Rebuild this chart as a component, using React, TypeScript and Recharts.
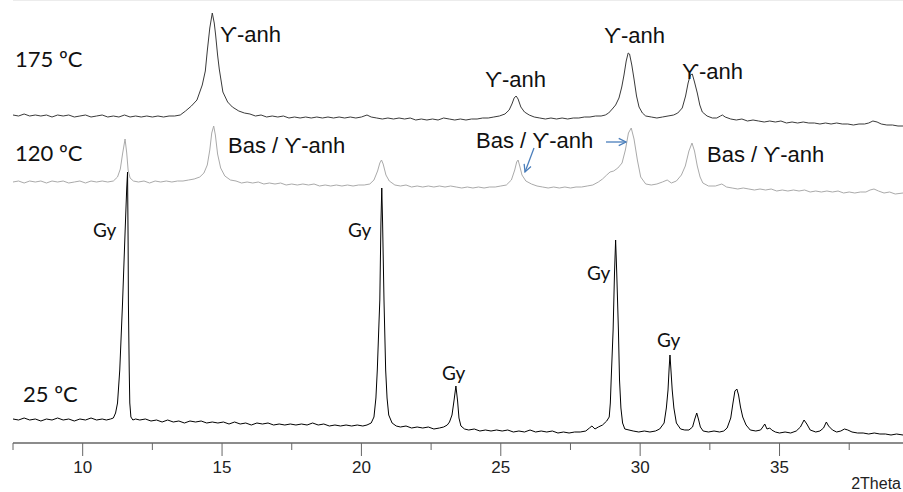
import React from "react";
import { LineChart, Line, XAxis, YAxis, ReferenceLine } from "recharts";

// Diffraction patterns: [2θ (deg), intensity (a.u., stacked offsets included)]
const pattern25: [number, number][] = [
  [7.5, 24], [7.7, 23], [7.9, 25], [8.1, 23], [8.3, 24], [8.5, 22], [8.7, 24], [8.9, 23], [9.1, 25], [9.3, 23],
  [9.5, 24], [9.7, 22], [9.9, 24], [10.1, 23], [10.3, 25], [10.5, 23], [10.7, 24], [10.85, 23], [11.0, 24], [11.1, 25],
  [11.18, 30], [11.25, 40], [11.33, 73], [11.43, 140], [11.52, 210], [11.58, 255], [11.61, 271], [11.63, 200], [11.64, 140], [11.67, 73],
  [11.69, 40], [11.73, 26], [11.8, 23], [11.9, 24], [12.05, 23], [12.25, 24], [12.45, 22], [12.65, 23], [12.85, 21], [13.05, 23], [13.25, 21],
  [13.45, 22], [13.65, 20], [13.85, 22], [14.05, 21], [14.25, 22], [14.45, 20], [14.65, 21], [14.85, 20], [15.05, 21], [15.25, 19],
  [15.45, 21], [15.65, 19], [15.85, 20], [16.05, 18], [16.25, 20], [16.45, 19], [16.65, 20], [16.85, 18], [17.05, 19], [17.25, 18],
  [17.45, 19], [17.65, 18], [17.85, 19], [18.05, 18], [18.25, 20], [18.45, 18], [18.65, 19], [18.85, 17], [19.05, 18], [19.25, 17],
  [19.45, 18], [19.65, 17], [19.85, 18], [20.05, 17], [20.2, 18], [20.35, 20], [20.45, 26], [20.52, 45], [20.57, 73], [20.63, 120],
  [20.66, 143], [20.7, 220], [20.73, 255], [20.76, 220], [20.81, 143], [20.87, 73], [20.92, 45], [20.98, 28], [21.1, 20], [21.25, 17],
  [21.4, 16], [21.6, 17], [21.8, 15], [22.0, 16], [22.2, 15], [22.4, 16], [22.6, 14], [22.8, 15], [22.95, 16], [23.08, 18],
  [23.16, 21], [23.25, 28], [23.32, 42], [23.39, 57], [23.45, 42], [23.5, 25], [23.57, 17], [23.7, 14], [23.85, 13], [24.05, 14],
  [24.25, 12], [24.45, 13], [24.65, 12], [24.85, 13], [25.05, 12], [25.25, 13], [25.45, 11], [25.65, 12], [25.85, 11], [26.05, 13],
  [26.25, 11], [26.45, 12], [26.65, 11], [26.85, 12], [27.05, 10], [27.25, 11], [27.45, 10], [27.65, 11], [27.85, 11], [28.05, 12],
  [28.18, 15], [28.27, 17], [28.38, 14], [28.5, 16], [28.65, 18], [28.8, 22], [28.89, 26], [28.93, 40], [28.96, 63], [29.03, 113],
  [29.08, 170], [29.12, 203], [29.16, 170], [29.22, 113], [29.26, 63], [29.31, 35], [29.37, 20], [29.45, 14], [29.6, 13], [29.75, 12],
  [29.95, 11], [30.15, 12], [30.35, 11], [30.55, 12], [30.7, 14], [30.86, 20], [30.94, 35], [31.0, 53], [31.04, 75], [31.07, 88],
  [31.1, 75], [31.15, 53], [31.21, 35], [31.3, 20], [31.45, 14], [31.6, 13], [31.75, 13], [31.88, 16], [31.96, 24], [32.03, 30],
  [32.09, 24], [32.16, 16], [32.26, 12], [32.45, 11], [32.65, 12], [32.85, 11], [33.0, 12], [33.12, 15], [33.25, 25], [33.33, 40],
  [33.4, 52], [33.47, 54], [33.53, 48], [33.6, 36], [33.68, 26], [33.8, 18], [33.95, 13], [34.15, 12], [34.32, 13], [34.4, 16],
  [34.47, 19], [34.55, 14], [34.65, 15], [34.72, 13], [34.85, 11], [35.0, 10], [35.2, 11], [35.4, 10], [35.6, 12], [35.75, 16],
  [35.88, 23], [35.98, 19], [36.1, 13], [36.3, 11], [36.45, 12], [36.58, 15], [36.68, 21], [36.76, 17], [36.9, 13], [37.05, 11],
  [37.2, 12], [37.33, 14], [37.45, 13], [37.6, 11], [37.8, 10], [38.0, 10], [38.2, 9], [38.4, 10], [38.6, 9], [38.8, 9],
  [39.0, 8], [39.2, 9], [39.43, 8],
];

const pattern120: [number, number][] = [
  [7.5, 261], [7.7, 262], [7.9, 260], [8.1, 262], [8.3, 261], [8.5, 262], [8.7, 260], [8.9, 262], [9.1, 261], [9.3, 262],
  [9.5, 260], [9.7, 261], [9.9, 262], [10.1, 260], [10.3, 262], [10.5, 261], [10.7, 262], [10.9, 261], [11.1, 262], [11.25, 266],
  [11.35, 274], [11.43, 289], [11.52, 304], [11.58, 290], [11.63, 273], [11.7, 265], [11.82, 262], [12.0, 261], [12.2, 262], [12.4, 260],
  [12.6, 262], [12.8, 261], [13.0, 262], [13.2, 261], [13.4, 262], [13.6, 262], [13.8, 263], [14.0, 264], [14.2, 266], [14.35, 270],
  [14.47, 278], [14.56, 293], [14.63, 310], [14.7, 317], [14.76, 308], [14.84, 289], [14.95, 275], [15.1, 267], [15.3, 263], [15.5, 262],
  [15.7, 260], [15.9, 261], [16.1, 260], [16.3, 261], [16.5, 259], [16.7, 260], [16.9, 259], [17.1, 260], [17.3, 258], [17.5, 259],
  [17.7, 258], [17.9, 259], [18.1, 258], [18.3, 259], [18.5, 257], [18.7, 258], [18.9, 257], [19.1, 258], [19.3, 257], [19.5, 258],
  [19.7, 257], [19.9, 258], [20.1, 258], [20.3, 259], [20.45, 263], [20.58, 272], [20.66, 280], [20.72, 283], [20.78, 279], [20.88, 268],
  [21.0, 262], [21.2, 258], [21.4, 257], [21.6, 258], [21.8, 256], [22.0, 257], [22.2, 256], [22.4, 257], [22.6, 256], [22.8, 257],
  [23.0, 256], [23.2, 257], [23.4, 256], [23.6, 255], [23.8, 256], [24.0, 255], [24.2, 256], [24.4, 255], [24.6, 256], [24.8, 256],
  [25.0, 257], [25.2, 258], [25.38, 263], [25.5, 273], [25.57, 281], [25.62, 283], [25.68, 277], [25.76, 268], [25.9, 262], [26.1, 259],
  [26.3, 257], [26.5, 256], [26.7, 255], [26.9, 256], [27.1, 255], [27.3, 256], [27.5, 255], [27.7, 256], [27.9, 256], [28.1, 257],
  [28.3, 258], [28.5, 261], [28.65, 264], [28.8, 268], [28.92, 271], [29.05, 272], [29.2, 275], [29.35, 280], [29.47, 293], [29.58, 310],
  [29.68, 315], [29.78, 304], [29.9, 283], [30.02, 266], [30.2, 259], [30.4, 258], [30.6, 259], [30.8, 261], [30.97, 263], [31.12, 260],
  [31.3, 262], [31.48, 268], [31.62, 277], [31.75, 292], [31.86, 300], [31.95, 292], [32.05, 277], [32.15, 266], [32.25, 260], [32.45, 257],
  [32.7, 257], [32.93, 259], [33.1, 256], [33.3, 255], [33.5, 254], [33.7, 255], [33.9, 254], [34.1, 253], [34.3, 254], [34.5, 253],
  [34.7, 254], [34.9, 252], [35.1, 253], [35.3, 252], [35.5, 253], [35.7, 252], [35.9, 253], [36.1, 251], [36.3, 252], [36.5, 251],
  [36.7, 252], [36.9, 251], [37.1, 252], [37.3, 250], [37.5, 251], [37.7, 250], [37.9, 251], [38.1, 251], [38.25, 253], [38.39, 254],
  [38.55, 252], [38.75, 250], [38.95, 251], [39.15, 249], [39.43, 250],
];

const pattern175: [number, number][] = [
  [7.5, 328], [7.7, 327], [7.9, 329], [8.1, 327], [8.3, 328], [8.5, 327], [8.7, 328], [8.9, 326], [9.1, 328], [9.3, 327],
  [9.5, 328], [9.7, 326], [9.9, 327], [10.1, 328], [10.3, 326], [10.5, 327], [10.7, 328], [10.9, 326], [11.1, 327], [11.3, 326],
  [11.5, 328], [11.7, 326], [11.9, 327], [12.1, 326], [12.3, 327], [12.5, 326], [12.7, 327], [12.9, 326], [13.1, 327], [13.3, 327],
  [13.5, 328], [13.69, 332], [13.9, 337], [14.1, 343], [14.29, 358], [14.4, 372], [14.47, 392], [14.56, 415], [14.65, 430], [14.72, 420],
  [14.77, 408], [14.84, 388], [14.9, 374], [15.03, 351], [15.2, 341], [15.37, 336], [15.6, 332], [15.8, 330], [16.0, 329], [16.2, 327],
  [16.4, 328], [16.6, 326], [16.8, 327], [17.0, 326], [17.2, 327], [17.4, 325], [17.6, 326], [17.8, 325], [18.0, 326], [18.2, 325],
  [18.4, 326], [18.6, 325], [18.8, 326], [19.0, 325], [19.2, 326], [19.4, 325], [19.6, 326], [19.8, 325], [20.0, 326], [20.2, 328],
  [20.35, 326], [20.55, 325], [20.75, 324], [20.95, 325], [21.15, 324], [21.35, 325], [21.55, 324], [21.75, 325], [21.95, 323], [22.15, 324],
  [22.35, 323], [22.55, 324], [22.75, 323], [22.95, 325], [23.15, 324], [23.35, 323], [23.55, 324], [23.75, 323], [23.95, 324], [24.15, 324],
  [24.35, 325], [24.55, 325], [24.75, 326], [24.95, 327], [25.15, 329], [25.3, 333], [25.4, 339], [25.48, 345], [25.55, 347], [25.62, 344],
  [25.72, 336], [25.85, 331], [26.02, 328], [26.2, 326], [26.4, 325], [26.6, 324], [26.8, 325], [27.0, 324], [27.2, 325], [27.4, 324],
  [27.6, 325], [27.8, 325], [28.0, 326], [28.2, 326], [28.4, 327], [28.6, 327], [28.75, 328], [28.87, 330], [29.0, 334], [29.12, 338],
  [29.24, 345], [29.34, 356], [29.42, 368], [29.5, 382], [29.57, 390], [29.62, 389], [29.7, 378], [29.78, 364], [29.87, 347], [29.96, 336],
  [30.08, 330], [30.2, 327], [30.4, 326], [30.6, 325], [30.8, 326], [31.0, 327], [31.2, 328], [31.35, 330], [31.51, 335], [31.63, 347],
  [31.72, 360], [31.8, 368], [31.87, 369], [31.95, 361], [32.05, 350], [32.14, 338], [32.23, 331], [32.4, 327], [32.59, 325], [32.75, 325],
  [32.88, 327], [32.95, 328], [33.05, 326], [33.25, 324], [33.45, 323], [33.65, 324], [33.85, 322], [34.05, 323], [34.25, 322], [34.45, 321],
  [34.65, 322], [34.85, 321], [35.05, 322], [35.25, 320], [35.45, 321], [35.65, 320], [35.85, 321], [36.05, 320], [36.25, 320], [36.45, 319],
  [36.65, 320], [36.85, 319], [37.05, 320], [37.25, 319], [37.45, 319], [37.65, 318], [37.85, 319], [38.05, 319], [38.2, 320], [38.35, 322],
  [38.5, 321], [38.65, 319], [38.85, 318], [39.05, 318], [39.25, 317], [39.43, 317],
];

const axisTicks = [7.5, 10, 12.5, 15, 17.5, 20, 22.5, 25, 27.5, 30, 32.5, 35, 37.5];
const labelledTicks = [10, 15, 20, 25, 30, 35];
const axisTitle = "2Theta";

const toRows = (pts: [number, number][]) => pts.map(([t, i]) => ({ t, i }));
const rows25 = toRows(pattern25);
const rows120 = toRows(pattern120);
const rows175 = toRows(pattern175);

const CALIBRI = "Lato, 'Open Sans', sans-serif";
const ARIAL = "'Liberation Sans', Arial, sans-serif";

// Annotation layout (pixel positions of text baselines)
const annotations = [
  { text: "175 ºC", x: 15, y: 67, font: CALIBRI, size: 22 },
  { text: "120 ºC", x: 15, y: 161, font: CALIBRI, size: 22 },
  { text: "25 ºC", x: 23, y: 402, font: CALIBRI, size: 22 },
  { text: "ϒ-anh", x: 220, y: 42, font: ARIAL, size: 22 },
  { text: "ϒ-anh", x: 485, y: 87, font: ARIAL, size: 22 },
  { text: "ϒ-anh", x: 604, y: 43, font: ARIAL, size: 22 },
  { text: "ϒ-anh", x: 682, y: 79, font: ARIAL, size: 22 },
  { text: "Bas / ϒ-anh", x: 228, y: 153, font: ARIAL, size: 22 },
  { text: "Bas / ϒ-anh", x: 476, y: 148, font: ARIAL, size: 22 },
  { text: "Bas / ϒ-anh", x: 707, y: 162, font: ARIAL, size: 22 },
  { text: "Gy", x: 93, y: 237, font: CALIBRI, size: 19 },
  { text: "Gy", x: 348, y: 237, font: CALIBRI, size: 19 },
  { text: "Gy", x: 442, y: 380, font: CALIBRI, size: 19 },
  { text: "Gy", x: 587, y: 280, font: CALIBRI, size: 19 },
  { text: "Gy", x: 657, y: 347, font: CALIBRI, size: 19 },
];

const arrows = [
  { x1: 606, y1: 142, x2: 626, y2: 142 },
  { x1: 534, y1: 148, x2: 525, y2: 172 },
];

const AxisTick = (props: any) => {
  const { x, y, payload } = props;
  const major = labelledTicks.includes(payload.value);
  return (
    <g>
      <line x1={x} x2={x} y1={y} y2={y + (major ? 13 : 7)} stroke="#666" strokeWidth={1} />
      {major && (
        <text x={x} y={y + 30} textAnchor="middle" fontSize={17} fontFamily={ARIAL} fill="#222">
          {payload.value}
        </text>
      )}
    </g>
  );
};

export default function App() {
  return (
    <div style={{ position: "absolute", left: 0, top: 0, width: 903, height: 492, background: "#fff" }}>
      <LineChart width={903} height={492} margin={{ top: 0, right: 0, left: 13, bottom: 19 }}>
        <XAxis
          dataKey="t"
          type="number"
          domain={[7.5, 39.43]}
          allowDataOverflow
          ticks={axisTicks}
          interval={0}
          tickSize={0}
          tickMargin={0}
          height={30}
          axisLine={{ stroke: "#8c8c8c", strokeWidth: 2 }}
          tickLine={false}
          tick={<AxisTick />}
        />
        <YAxis hide type="number" domain={[0, 443]} allowDataOverflow />
        <ReferenceLine y={443} stroke="#ececec" strokeWidth={2} />
        <Line data={rows25} dataKey="i" type="linear" stroke="#000" strokeWidth={1} dot={false} isAnimationActive={false} />
        <Line data={rows120} dataKey="i" type="linear" stroke="#aaaaaa" strokeWidth={1} dot={false} isAnimationActive={false} />
        <Line data={rows175} dataKey="i" type="linear" stroke="#3a3a3a" strokeWidth={1} dot={false} isAnimationActive={false} />
      </LineChart>
      <svg width={903} height={492} style={{ position: "absolute", left: 0, top: 0, pointerEvents: "none" }}>
        <defs>
          <marker id="openHead" viewBox="0 0 10 10" refX="9" refY="5" markerWidth="7" markerHeight="7" orient="auto">
            <path d="M1,1 L9,5 L1,9" fill="none" stroke="#4a7ebb" strokeWidth={1.4} />
          </marker>
        </defs>
        {annotations.map((a, k) => (
          <text key={k} x={a.x} y={a.y} fontFamily={a.font} fontSize={a.size} fill="#111">
            {a.text}
          </text>
        ))}
        {arrows.map((a, k) => (
          <line key={k} x1={a.x1} y1={a.y1} x2={a.x2} y2={a.y2} stroke="#4a7ebb" strokeWidth={1.3} markerEnd="url(#openHead)" />
        ))}
        <text x={901} y={489} textAnchor="end" fontFamily={ARIAL} fontSize={16} fill="#222">
          {axisTitle}
        </text>
      </svg>
    </div>
  );
}
